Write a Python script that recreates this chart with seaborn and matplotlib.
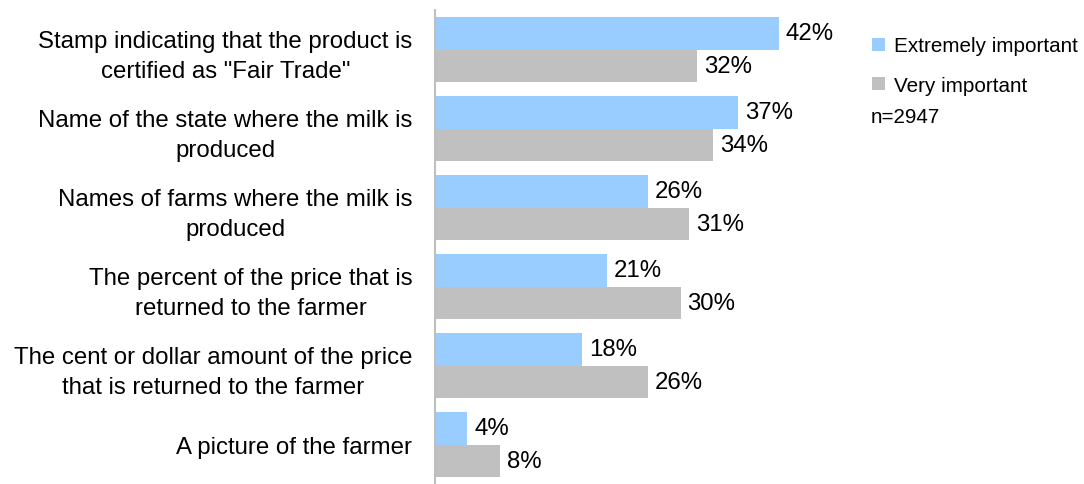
import pandas as pd
import matplotlib.pyplot as plt
import seaborn as sns
from matplotlib.patches import Patch

# Data
categories = [
    'Stamp indicating that the product is\ncertified as "Fair Trade"',
    'Name of the state where the milk is\nproduced',
    'Names of farms where the milk is\nproduced',
    'The percent of the price that is\nreturned to the farmer',
    'The cent or dollar amount of the price\nthat is returned to the farmer',
    'A picture of the farmer',
]
extremely_important = [42, 37, 26, 21, 18, 4]
very_important = [32, 34, 31, 30, 26, 8]
series_names = ['Extremely important', 'Very important']
colors = ['#99CCFF', '#C0C0C0']

df = pd.DataFrame({
    'Category': categories * 2,
    'Share': extremely_important + very_important,
    'Series': [series_names[0]] * len(categories) + [series_names[1]] * len(categories),
})

sns.set_style('white')
plt.rcParams['font.family'] = ['Liberation Sans', 'DejaVu Sans']

fig = plt.figure(figsize=(10.84, 4.85), dpi=100)
ax = fig.add_axes([0.401, 0.0, 0.378, 0.977])

sns.barplot(data=df, y='Category', x='Share', hue='Series', order=categories,
            hue_order=series_names, palette=colors, width=0.82,
            orient='h', ax=ax, legend=False, saturation=1, linewidth=0)

ax.set_xlim(0, 50)
ax.set_xticks([])
ax.set_xlabel('')
ax.set_ylabel('')
ax.tick_params(axis='y', length=0, pad=16)
for lab in ax.get_yticklabels():
    lab.set_fontsize(17.3)
    lab.set_multialignment('center')
    lab.set_linespacing(1.45)
    lab.set_color('black')

for side in ['top', 'right', 'bottom']:
    ax.spines[side].set_visible(False)
ax.spines['left'].set_color('#BFBFBF')
ax.spines['left'].set_linewidth(1.5)

for container in ax.containers:
    ax.bar_label(container, fmt='%d%%', padding=5, fontsize=17.3, color='black')

handles = [Patch(facecolor=c, edgecolor='none') for c in colors]
fig.legend(handles, series_names, loc='upper left', bbox_to_anchor=(0.797, 0.94),
           frameon=False, fontsize=14.9, handlelength=0.6, handleheight=0.6,
           handletextpad=0.45, labelspacing=1.0, borderaxespad=0, labelcolor='black')
fig.text(0.803, 0.757, 'n=2947', fontsize=14.9, va='center', ha='left', color='black')

fig.savefig('out.png', dpi=100)
